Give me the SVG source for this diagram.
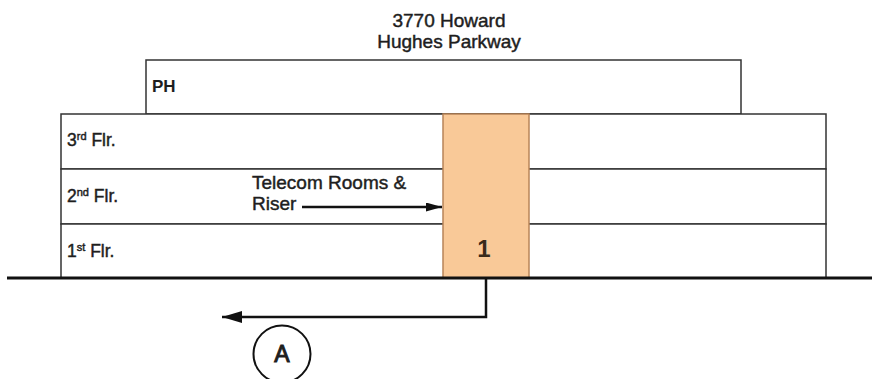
<svg xmlns="http://www.w3.org/2000/svg" width="872" height="379" viewBox="0 0 872 379">
<style>
.t{font-family:"Liberation Sans",Arial,sans-serif;fill:#1e1e1e;stroke:#1e1e1e;stroke-width:0.45}
.floor{fill:#fff;stroke:#333;stroke-width:1.5}
.lbl{font-size:17.5px}
.sup{font-size:11px}
.con{fill:none;stroke:#111;stroke-width:2.5}
</style>
<defs>
<marker id="ah" markerWidth="20" markerHeight="12" refX="20" refY="6" orient="auto" markerUnits="userSpaceOnUse">
<path d="M0,0 L20,6 L0,12 Z" fill="#111"/>
</marker>
<marker id="ahs" markerWidth="16" markerHeight="9" refX="16" refY="4.5" orient="auto" markerUnits="userSpaceOnUse">
<path d="M0,0 L16,4.5 L0,9 Z" fill="#111"/>
</marker>
</defs>
<rect width="872" height="379" fill="#fff"/>
<g id="title">
<text class="t" x="449" y="27" font-size="19" text-anchor="middle">3770 Howard</text>
<text class="t" x="449" y="48" font-size="19" text-anchor="middle">Hughes Parkway</text>
</g>
<g id="ph">
<rect class="floor" x="146" y="60" width="595" height="54"/>
<text class="t" x="152" y="92" font-size="17" font-weight="bold" style="stroke-width:0">PH</text>
</g>
<g id="floor3">
<rect class="floor" x="61" y="114" width="765" height="55"/>
<text class="t lbl" x="67" y="146">3<tspan class="sup" dy="-6">rd</tspan><tspan dy="6"> Flr.</tspan></text>
</g>
<g id="floor2">
<rect class="floor" x="61" y="169" width="765" height="55"/>
<text class="t lbl" x="67" y="202">2<tspan class="sup" dy="-6">nd</tspan><tspan dy="6"> Flr.</tspan></text>
</g>
<g id="floor1">
<rect class="floor" x="61" y="224" width="765" height="54"/>
<text class="t lbl" x="67" y="257">1<tspan class="sup" dy="-6">st</tspan><tspan dy="6"> Flr.</tspan></text>
</g>
<g id="riser">
<rect x="443" y="114" width="86" height="164" fill="#F9C998" stroke="#B88458" stroke-width="1.5"/>
<text class="t" x="484" y="257" font-size="24" font-weight="bold" text-anchor="middle" style="fill:#3a2a1a;stroke-width:0">1</text>
</g>
<g id="riser-label">
<text class="t" x="252" y="189" font-size="19">Telecom Rooms &amp;</text>
<text class="t" x="252" y="210" font-size="19">Riser</text>
</g>
<g id="ground">
<line x1="7" y1="278" x2="872" y2="278" stroke="#111" stroke-width="3"/>
</g>
<g id="marker-a">
<circle cx="282" cy="354" r="28.5" fill="#fff" stroke="#111" stroke-width="2"/>
<text class="t" x="282" y="362" font-size="23" text-anchor="middle" style="stroke-width:1">A</text>
</g>
<g id="connectors">
<line class="con" x1="302" y1="207" x2="442" y2="207" stroke-width="1.5" marker-end="url(#ahs)"/>
<polyline class="con" points="486,279 486,317 222,317" marker-end="url(#ah)"/>
</g>
</svg>
